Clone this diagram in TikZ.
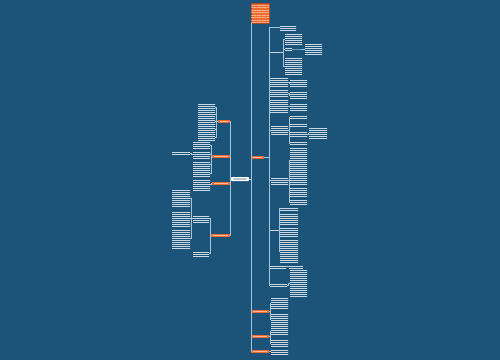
\documentclass[tikz,border=0pt]{standalone}
\usetikzlibrary{patterns.meta}
\definecolor{bg}{HTML}{1C5378}
\definecolor{org}{HTML}{EE6A2E}
\definecolor{ln}{HTML}{A4C6DC}
\definecolor{tx}{HTML}{C9D8E3}
\tikzset{
 tblock/.style={rectangle,inner sep=0,outer sep=0,draw=none,pattern={Lines[angle=0,distance=2pt,line width=0.85pt]},pattern color=tx},
 obox/.style={rectangle,inner sep=0,outer sep=0,fill=org,
   path picture={\fill[white,opacity=.55] ([xshift=2pt,yshift=-0.4pt]path picture bounding box.west) rectangle ([xshift=-2pt,yshift=0.4pt]path picture bounding box.east);}},
 rootbox/.style={rectangle,inner sep=0,outer sep=0,fill=org,draw=org!70!black,line width=0.8pt,
   postaction={pattern={Lines[angle=0,distance=2.5pt,line width=0.5pt]},pattern color=org!55!white}},
 cbox/.style={rectangle,rounded corners=0.8pt,inner sep=0,outer sep=0,fill=white,
   path picture={\fill[gray!70!black] ([xshift=2pt,yshift=-0.4pt]path picture bounding box.west) rectangle ([xshift=-2pt,yshift=0.4pt]path picture bounding box.east);}},
 conn/.style={draw=ln,line width=0.65pt},
}
\newcommand\blk[6]{\node[#6,anchor=north west,minimum width=#4pt-#2pt,minimum height=#5pt-#3pt] (#1) at (#2,#3) {};}
\newcommand\rc[3]{\draw[conn] (#1.east) -- ++(#3,0) |- (#2.west);}
\newcommand\lc[3]{\draw[conn] (#1.west) -- ++(-#3,0) |- (#2.east);}
\begin{document}
\begin{tikzpicture}[x=1pt,y=-1pt]
\fill[bg] (0,0) rectangle (500,360);
\useasboundingbox (0,0) rectangle (500,360);
% main nodes
\blk{R0}{251}{3}{269}{23}{rootbox}
\blk{C}{231}{177}{249}{181}{cbox}
\blk{H}{251}{156}{264}{159}{obox}
\blk{B1}{251}{310}{269}{313}{obox}
\blk{B2}{251}{335}{269}{338}{obox}
\blk{B3}{251}{350}{269}{353}{obox}
% left orange
\blk{L1}{218}{120}{229.5}{123}{obox}
\blk{L2}{212}{155}{229.5}{158}{obox}
\blk{L3}{212}{182}{229.5}{185}{obox}
\blk{L4}{211}{234}{229.5}{237}{obox}
% trunk connectors
\draw[conn] (C.east) -- ++(2,0) |- (R0.south west);
\rc{C}{H}{2}
\rc{C}{B1}{2}
\rc{C}{B2}{2}
\rc{C}{B3}{2}
\lc{C}{L1}{1}
\lc{C}{L2}{1}
\lc{C}{L3}{1}
\lc{C}{L4}{1}
% right hub children
\blk{R1}{280}{25}{296}{30}{tblock}
\blk{R2}{271}{51}{282}{53}{tblock}
\blk{R2a}{285}{34}{302}{45}{tblock}
\blk{R2b}{285}{48}{292}{50}{tblock}
\blk{R2ba}{305}{43}{322}{55}{tblock}
\blk{R2c}{285}{57}{302}{75}{tblock}
\blk{R3}{270}{77}{288}{87}{tblock}
\blk{R3a}{290}{80}{307}{86}{tblock}
\blk{R4}{270}{90}{288}{97}{tblock}
\blk{R4a}{290}{92}{307}{98}{tblock}
\blk{R5}{270}{100}{288}{112}{tblock}
\blk{R5a}{290}{103}{307}{110}{tblock}
\blk{R6}{271}{126}{288}{134}{tblock}
\blk{R6a}{290}{115}{307}{119}{tblock}
\blk{R6b}{290}{123}{307}{126}{tblock}
\blk{R6c}{290}{131}{307}{137}{tblock}
\blk{R6ca}{309}{128}{327}{139}{tblock}
\blk{R6d}{290}{141}{307}{145}{tblock}
\blk{R7}{271}{177}{288}{184}{tblock}
\blk{R7a}{290}{148}{307}{172}{tblock}
\blk{R7b}{290}{174}{307}{185}{tblock}
\blk{R7c}{290}{187}{307}{197}{tblock}
\blk{R7d}{290}{199}{307}{205}{tblock}
\blk{R8}{270}{229}{278}{231}{tblock}
\blk{R8a}{280}{207}{298}{210}{tblock}
\blk{R8b}{280}{214}{298}{225}{tblock}
\blk{R8c}{280}{228}{298}{237}{tblock}
\blk{R8d}{280}{239}{298}{263}{tblock}
\blk{R9}{270}{265}{286}{268}{tblock}
\blk{R9a}{289}{265}{303}{268}{tblock}
\blk{R10}{270}{283}{287}{287}{tblock}
\blk{R10a}{290}{270}{307}{296}{tblock}
\rc{H}{R1}{5}
\rc{H}{R2}{5}
\rc{H}{R3}{5}
\rc{H}{R4}{5}
\rc{H}{R5}{5}
\rc{H}{R6}{5}
\rc{H}{R7}{5}
\rc{H}{R8}{5}
\rc{H}{R9}{5}
\rc{H}{R10}{5}
\rc{R2}{R2a}{1.5}
\rc{R2}{R2b}{1.5}
\rc{R2}{R2c}{1.5}
\rc{R2b}{R2ba}{6}
\rc{R3}{R3a}{1}
\rc{R4}{R4a}{1}
\rc{R5}{R5a}{1}
\rc{R6}{R6a}{1}
\rc{R6}{R6b}{1}
\rc{R6}{R6c}{1}
\rc{R6}{R6d}{1}
\rc{R6c}{R6ca}{1}
\rc{R7}{R7a}{1}
\rc{R7}{R7b}{1}
\rc{R7}{R7c}{1}
\rc{R7}{R7d}{1}
\rc{R8}{R8a}{1}
\rc{R8}{R8b}{1}
\rc{R8}{R8c}{1}
\rc{R8}{R8d}{1}
\rc{R9}{R9a}{1.5}
\rc{R10}{R10a}{1.5}
% bottom children
\blk{B1a}{271}{298}{288}{308}{tblock}
\blk{B1b}{271}{313}{288}{326}{tblock}
\blk{B2a}{271}{328}{288}{334}{tblock}
\blk{B2b}{271}{340}{288}{346}{tblock}
\blk{B3a}{271}{349}{288}{354}{tblock}
\rc{B1}{B1a}{1}
\rc{B1}{B1b}{1}
\rc{B2}{B2a}{1}
\rc{B2}{B2b}{1}
\rc{B3}{B3a}{1}
% left children
\blk{L1a}{198}{104}{215}{110}{tblock}
\blk{L1b}{198}{112}{215}{117}{tblock}
\blk{L1c}{198}{118}{215}{124}{tblock}
\blk{L1d}{198}{126}{215}{132}{tblock}
\blk{L1e}{198}{134}{215}{140}{tblock}
\lc{L1}{L1a}{1.5}
\lc{L1}{L1b}{1.5}
\lc{L1}{L1c}{1.5}
\lc{L1}{L1d}{1.5}
\lc{L1}{L1e}{1.5}
\blk{L2a}{193}{141}{210}{149}{tblock}
\blk{L2b}{193}{151}{210}{158}{tblock}
\blk{L2c}{193}{161}{210}{168}{tblock}
\blk{L2d}{193}{170}{210}{177}{tblock}
\blk{L2ba}{172}{152}{190}{154}{tblock}
\lc{L2}{L2a}{1}
\lc{L2}{L2b}{1}
\lc{L2}{L2c}{1}
\lc{L2}{L2d}{1}
\lc{L2b}{L2ba}{1.5}
\blk{L3a}{193}{179}{210}{190}{tblock}
\lc{L3}{L3a}{1}
\blk{L4a}{193}{215}{209}{222}{tblock}
\blk{L4b}{193}{251}{209}{256}{tblock}
\blk{L4aa}{172}{190}{190}{207}{tblock}
\blk{L4ab}{172}{211}{190}{226}{tblock}
\blk{L4ac}{172}{229}{190}{248}{tblock}
\lc{L4}{L4a}{1}
\lc{L4}{L4b}{1}
\lc{L4a}{L4aa}{1.5}
\lc{L4a}{L4ab}{1.5}
\lc{L4a}{L4ac}{1.5}
\end{tikzpicture}
\end{document}
